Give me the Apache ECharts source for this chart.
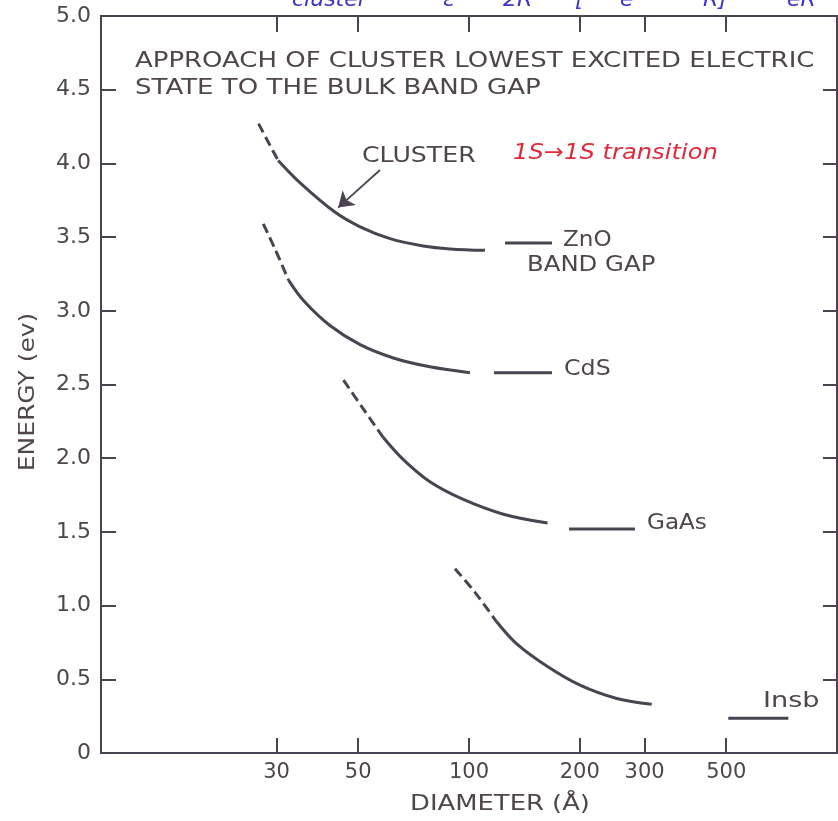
<!DOCTYPE html>
<html>
<head>
<meta charset="utf-8">
<script src="https://cdn.jsdelivr.net/npm/echarts@6/dist/echarts.min.js"></script>
<style>
html,body{margin:0;padding:0;background:#ffffff;}
#chart{width:838px;height:821px;}
</style>
</head>
<body>
<div id="chart"></div>
<script>
// ---- data (diameter in Å, energy in eV) ----
const xTickValues = [30, 50, 100, 200, 300, 500];
const yTickValues = [0, 0.5, 1.0, 1.5, 2.0, 2.5, 3.0, 3.5, 4.0, 4.5, 5.0];

const znoDashDiam   = [26.8, 28.4, 30.3];
const znoDashEnergy = [4.27, 4.15, 4.02];
const znoDiam   = [30.3, 34.7, 43.2, 50.6, 61.0, 75.1, 88.8, 110.5];
const znoEnergy = [4.02, 3.87, 3.67, 3.57, 3.49, 3.44, 3.42, 3.41];
const znoGapDiam   = [125.3, 168.1];
const znoGapEnergy = [3.46, 3.46];

const cdsDashDiam   = [27.6, 29.7, 32.3];
const cdsDashEnergy = [3.59, 3.42, 3.21];
const cdsDiam   = [32.3, 35.5, 41.9, 50.6, 62.3, 78.3, 100.6];
const cdsEnergy = [3.21, 3.07, 2.90, 2.77, 2.68, 2.62, 2.58];
const cdsGapDiam   = [116.9, 168.1];
const cdsGapEnergy = [2.58, 2.58];

const gaasDashDiam   = [45.6, 51.1, 58.5];
const gaasDashEnergy = [2.53, 2.35, 2.14];
const gaasDiam   = [58.5, 66.3, 78.3, 96.5, 124.0, 163.5];
const gaasEnergy = [2.14, 1.99, 1.84, 1.72, 1.62, 1.56];
const gaasGapDiam   = [187.0, 282.5];
const gaasGapEnergy = [1.52, 1.52];

const insbDashDiam   = [91.6, 103.8, 118.9];
const insbDashEnergy = [1.25, 1.09, 0.89];
const insbDiam   = [118.9, 134.8, 162.6, 200.3, 252.0, 313.7];
const insbEnergy = [0.89, 0.74, 0.59, 0.46, 0.37, 0.33];
const insbGapDiam   = [506.5, 737.6];
const insbGapEnergy = [0.235, 0.235];

const arrowFrom = [57.3, 3.955];
const arrowTo   = [44.1, 3.70];

// ---- styling ----
const INK = '#4a4450';
const TXT = '#4e464b';
const FONT = '"DejaVu Sans"';

const zip = (a, b) => a.map((v, i) => [v, b[i]]);

function curve(name, xs, ys, dashed, extra) {
  return Object.assign({
    name: name,
    type: 'line',
    xAxisIndex: 0,
    yAxisIndex: 0,
    data: zip(xs, ys),
    smooth: 0.35,
    showSymbol: false,
    symbol: 'none',
    silent: true,
    lineStyle: { color: INK, width: 3, type: dashed ? [10, 5] : 'solid', cap: 'butt' }
  }, extra || {});
}

const series = [
  curve('ZnO dashed', znoDashDiam, znoDashEnergy, true),
  curve('ZnO', znoDiam, znoEnergy, false, {
    markLine: {
      silent: true,
      symbol: ['none', 'arrow'],
      symbolSize: 15,
      label: { show: false },
      lineStyle: { color: INK, width: 1.8, type: 'solid' },
      data: [[{ coord: arrowFrom }, { coord: arrowTo }]]
    }
  }),
  curve('ZnO gap', znoGapDiam, znoGapEnergy, false),
  curve('CdS dashed', cdsDashDiam, cdsDashEnergy, true),
  curve('CdS', cdsDiam, cdsEnergy, false),
  curve('CdS gap', cdsGapDiam, cdsGapEnergy, false),
  curve('GaAs dashed', gaasDashDiam, gaasDashEnergy, true),
  curve('GaAs', gaasDiam, gaasEnergy, false),
  curve('GaAs gap', gaasGapDiam, gaasGapEnergy, false),
  curve('InSb dashed', insbDashDiam, insbDashEnergy, true),
  curve('InSb', insbDiam, insbEnergy, false),
  curve('InSb gap', insbGapDiam, insbGapEnergy, false)
];

function txt(text, x, y, opts) {
  opts = opts || {};
  return {
    type: 'text',
    x: x, y: y,
    scaleX: opts.sx || 1,
    rotation: opts.rot || 0,
    silent: true,
    style: {
      text: text,
      fill: opts.color || TXT,
      font: (opts.italic ? 'italic ' : '') + (opts.bold ? 'bold ' : '') + (opts.size || 21) + 'px ' + FONT,
      align: opts.align || 'left',
      verticalAlign: opts.va || 'middle'
    }
  };
}

const BLUE = '#3a33c8';
const blue = { italic: true, size: 22, color: BLUE, va: 'bottom' };
const graphics = [
  txt('APPROACH OF CLUSTER LOWEST EXCITED ELECTRIC', 135, 62, { sx: 1.236 }),
  txt('STATE TO THE BULK BAND GAP', 135, 89, { sx: 1.24 }),
  txt('CLUSTER', 362, 157, { sx: 1.2 }),
  txt('1S→1S transition', 513, 153, { sx: 1.1, italic: true, size: 22, color: '#e02a3c' }),
  txt('ZnO', 563, 241, { sx: 1.1 }),
  txt('BAND GAP', 527, 266, { sx: 1.16 }),
  txt('CdS', 564, 370, { sx: 1.13 }),
  txt('GaAs', 647, 524, { sx: 1.1 }),
  txt('Insb', 763, 702, { sx: 1.29 }),
  txt('DIAMETER (Å)', 500, 805, { sx: 1.23, align: 'center' }),
  txt('ENERGY (ev)', 29, 392, { sx: 1.19, align: 'center', rot: Math.PI / 2 }),
  // clipped handwritten fragments at the very top
  txt('cluster', 292, 11, blue),
  txt('ε', 443, 11, blue),
  txt('2R', 503, 11, blue),
  txt('[', 575, 11, blue),
  txt('e', 620, 11, blue),
  txt('R]', 703, 11, blue),
  txt('eR', 787, 11, blue)
];

const logTicks = xTickValues.map(v => Math.log10(v));
const axisLineStyle = { show: true, lineStyle: { color: INK, width: 2 } };

const chart = echarts.init(document.getElementById('chart'), null, { renderer: 'canvas' });
chart.setOption({
  animation: false,
  backgroundColor: '#ffffff',
  grid: { left: 101, right: 1, top: 16, bottom: 68, containLabel: false, outerBoundsMode: 'none' },
  xAxis: [
    { type: 'log', logBase: 10, min: 10, max: 1000, show: false, position: 'bottom' },
    {
      type: 'value', min: 1, max: 3, position: 'bottom',
      axisLine: axisLineStyle,
      axisTick: { show: true, inside: true, length: 15, customValues: logTicks, lineStyle: { color: INK, width: 2 } },
      axisLabel: {
        show: true, customValues: logTicks, margin: 9,
        formatter: v => String(Math.round(Math.pow(10, v))),
        color: TXT, fontSize: 21, fontFamily: FONT
      },
      splitLine: { show: false }
    },
    {
      type: 'value', min: 1, max: 3, position: 'top',
      axisLine: axisLineStyle,
      axisTick: { show: true, inside: true, length: 16, customValues: logTicks, lineStyle: { color: INK, width: 2 } },
      axisLabel: { show: false },
      splitLine: { show: false }
    }
  ],
  yAxis: [
    {
      type: 'value', min: 0, max: 5, interval: 0.5, position: 'left',
      axisLine: axisLineStyle,
      axisTick: { show: true, inside: true, length: 15, lineStyle: { color: INK, width: 2 } },
      axisLabel: {
        show: true, margin: 10, color: TXT, fontSize: 22, fontFamily: FONT,
        formatter: v => (v === 0 ? '0' : v.toFixed(1))
      },
      splitLine: { show: false }
    },
    {
      type: 'value', min: 0, max: 5, interval: 0.5, position: 'right',
      axisLine: axisLineStyle,
      axisTick: { show: true, inside: true, length: 14, lineStyle: { color: INK, width: 2 } },
      axisLabel: { show: false },
      splitLine: { show: false }
    }
  ],
  series: series,
  graphic: graphics
});
</script>
</body>
</html>
